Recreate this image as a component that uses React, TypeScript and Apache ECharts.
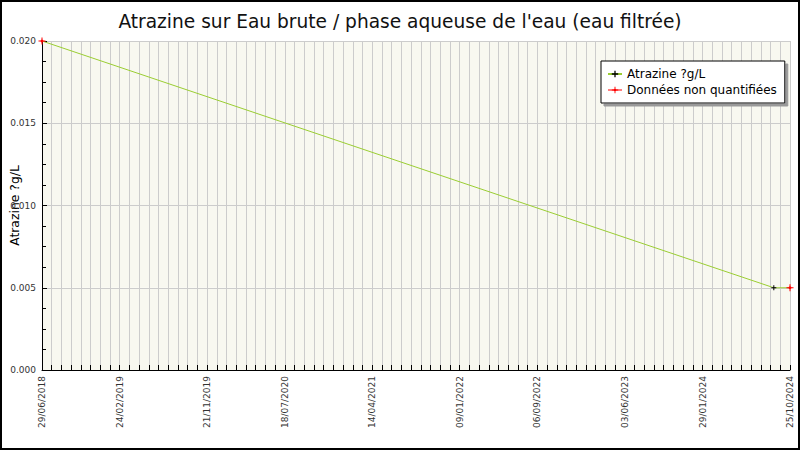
import React, { useEffect, useRef } from 'react';
import * as echarts from 'echarts';

const TITLE = "Atrazine sur Eau brute / phase aqueuse de l'eau (eau filtrée)";
const Y_NAME = 'Atrazine ?g/L';
const NQ_NAME = 'Données non quantifiées';
const START_DATE = '2018-06-29';
const END_DATE = '2024-10-25';

// tick labels shown under the x axis
const X_TICK_LABELS = [
  '29/06/2018', '24/02/2019', '21/11/2019', '18/07/2020', '14/04/2021',
  '09/01/2022', '06/09/2022', '03/06/2023', '29/01/2024', '25/10/2024'
];

// all samples (the line goes through every one)
const SAMPLE_DATES = ['2018-06-29', '2024-09-05', '2024-10-25'];
const SAMPLE_VALUES = [0.02, 0.005, 0.005];
// true = quantified (black marker), false = not quantified (red marker)
const SAMPLE_QUANTIFIED = [false, true, false];

const DAY = 86400000;
const toMs = (s: string) => {
  const [y, m, d] = s.split('-').map(Number);
  return Date.UTC(y, m - 1, d);
};
const startMs = toMs(START_DATE);
const dayOffset = (s: string) => Math.round((toMs(s) - startMs) / DAY);
const fmtDate = (off: number) => {
  const dt = new Date(startMs + off * DAY);
  const dd = String(dt.getUTCDate()).padStart(2, '0');
  const mm = String(dt.getUTCMonth() + 1).padStart(2, '0');
  return `${dd}/${mm}/${dt.getUTCFullYear()}`;
};

const FONT = 'DejaVu Sans';
const PLUS = 'path://M2,0H3V2H5V3H3V5H2V3H0V2H2Z';
const RED_PLUS = 'path://M3,0H4V2L5,3H7V4H5L4,5V7H3V5L2,4H0V3H2L3,2Z';

const App: React.FC = () => {
  const chartRef = useRef<HTMLDivElement>(null);

  useEffect(() => {
    document.body.style.margin = '0';
    if (!chartRef.current) return;
    const chart = echarts.init(chartRef.current, undefined, { renderer: 'svg' });

    const lineData = SAMPLE_DATES.map((d, i) => ({
      value: [dayOffset(d), SAMPLE_VALUES[i]],
      symbol: SAMPLE_QUANTIFIED[i] ? PLUS : 'none'
    }));
    const nqData = SAMPLE_DATES
      .map((d, i) => [dayOffset(d), SAMPLE_VALUES[i]])
      .filter((_, i) => !SAMPLE_QUANTIFIED[i]);

    const option = {
      animation: false,
      backgroundColor: '#fff',
      textStyle: { fontFamily: FONT },
      title: {
        text: TITLE,
        left: 'center',
        top: 7,
        textStyle: { fontFamily: FONT, fontSize: 18.6, fontWeight: 'normal', color: '#111' }
      },
      legend: {
        orient: 'vertical',
        left: 601,
        top: 61,
        padding: [7, 8, 7, 6],
        itemGap: 4,
        itemWidth: 14,
        itemHeight: 8,
        backgroundColor: '#fff',
        borderColor: '#000',
        borderWidth: 1,
        shadowColor: '#999',
        shadowOffsetX: 3,
        shadowOffsetY: 3,
        shadowBlur: 0,
        textStyle: { fontFamily: FONT, fontSize: 12, color: '#000' },
        data: [
          { name: Y_NAME },
          { name: NQ_NAME, lineStyle: { color: '#ff0000', opacity: 1, width: 1 } }
        ]
      },
      grid: { left: 42, right: 10, top: 41, bottom: 80, containLabel: false, outerBoundsMode: 'none' },
      xAxis: {
        type: 'value',
        min: 0,
        max: dayOffset(END_DATE),
        interval: 30,
        axisLine: { show: true, lineStyle: { color: '#000' } },
        axisTick: { show: true, inside: true, length: 5, lineStyle: { color: '#000' } },
        splitLine: { show: true, lineStyle: { color: '#cccccc' } },
        axisLabel: {
          rotate: 90,
          fontSize: 9,
          color: '#333',
          fontFamily: FONT,
          margin: 6,
          hideOverlap: false,
          formatter: (v: number) => {
            const s = fmtDate(v);
            return X_TICK_LABELS.includes(s) ? s : '';
          }
        }
      },
      yAxis: {
        type: 'value',
        min: 0,
        max: 0.02,
        interval: 0.005,
        name: Y_NAME,
        nameLocation: 'middle',
        nameGap: 22,
        nameRotate: 90,
        nameMoveOverlap: false,
        nameTextStyle: { fontFamily: FONT, fontSize: 12.4, color: '#000' },
        axisLine: { show: true, lineStyle: { color: '#000' } },
        axisTick: { show: true, inside: true, length: 5, lineStyle: { color: '#000' } },
        minorTick: { show: true, splitNumber: 4, length: 4, lineStyle: { color: '#000' } },
        splitLine: { show: true, lineStyle: { color: '#cccccc' } },
        splitArea: { show: true, areaStyle: { color: ['#f8f8f0', '#f8f8f0'] } },
        axisLabel: {
          fontSize: 9,
          color: '#333',
          fontFamily: FONT,
          margin: 6,
          formatter: (v: number) => v.toFixed(3)
        }
      },
      series: [
        {
          name: Y_NAME,
          type: 'line',
          data: lineData,
          symbol: PLUS,
          symbolSize: 5,
          itemStyle: { color: '#000' },
          lineStyle: { color: '#9acd32', width: 1 },
          z: 2
        },
        {
          name: NQ_NAME,
          type: 'line',
          data: nqData,
          symbol: RED_PLUS,
          symbolSize: 7,
          itemStyle: { color: '#ff0000' },
          lineStyle: { color: '#ff0000', width: 1, opacity: 0 },
          z: 3
        }
      ],
      graphic: [
        {
          type: 'rect',
          shape: { x: 1, y: 1, width: 798, height: 448 },
          style: { fill: 'none', stroke: '#000', lineWidth: 2 },
          silent: true
        }
      ]
    };

    chart.setOption(option as any);
    return () => {
      chart.dispose();
    };
  }, []);

  return <div ref={chartRef} style={{ width: 800, height: 450 }} />;
};

export default App;
